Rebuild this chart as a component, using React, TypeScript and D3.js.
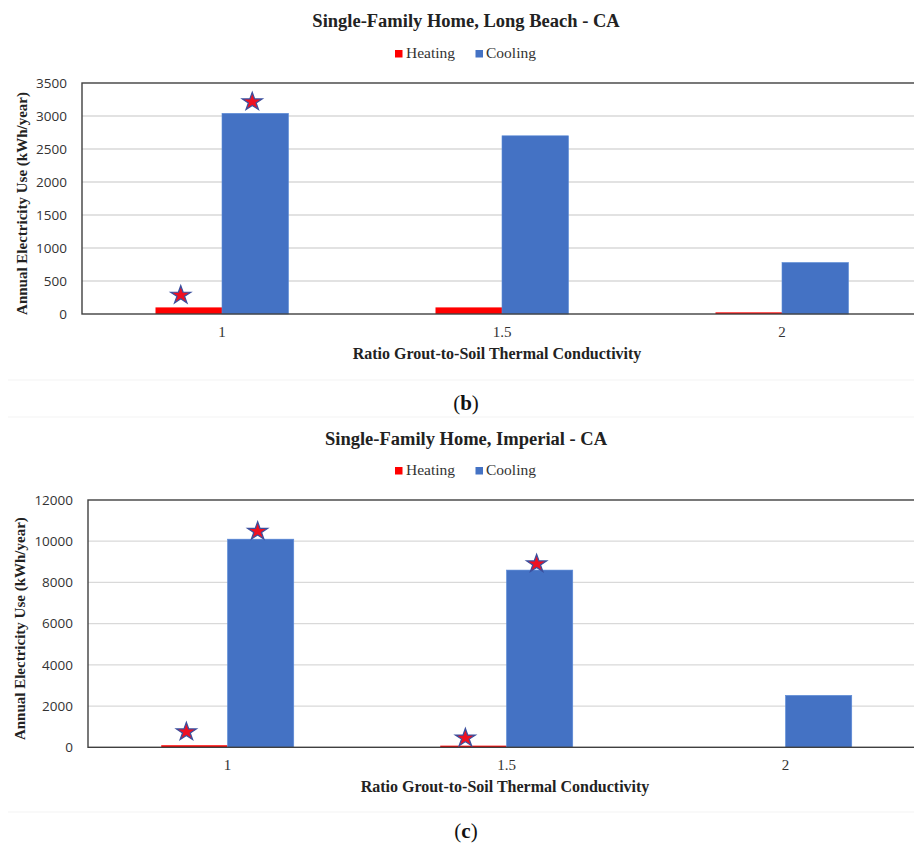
import React from "react";
import * as d3 from "d3";

// ---------- data ----------
const categories = ["1", "1.5", "2"];
const seriesNames = ["Heating", "Cooling"];

const longBeachHeating = [100, 100, 25];
const longBeachCooling = [3040, 2700, 780];
const longBeachTicks = [0, 500, 1000, 1500, 2000, 2500, 3000, 3500];
const longBeachStars = [
  { category: "1", series: "Heating", value: 300 },
  { category: "1", series: "Cooling", value: 3230 },
];

const imperialHeating = [100, 80, 10];
const imperialCooling = [10100, 8600, 2520];
const imperialTicks = [0, 2000, 4000, 6000, 8000, 10000, 12000];
const imperialStars = [
  { category: "1", series: "Heating", value: 800 },
  { category: "1", series: "Cooling", value: 10530 },
  { category: "1.5", series: "Heating", value: 500 },
  { category: "1.5", series: "Cooling", value: 8950 },
];

const COLORS: Record<string, string> = { Heating: "#ff0000", Cooling: "#4472c4" };
const SERIF = "'Times New Roman', 'Liberation Serif', serif";
const SANS = "'Open Sans', 'Noto Sans', sans-serif";

type Star = { category: string; series: string; value: number };

function Chart(props: {
  title: string;
  heating: number[];
  cooling: number[];
  ticks: number[];
  stars: Star[];
  left: number;
  top: number;
  bottom: number;
  step: number;
  titleY: number;
  legendY: number;
  yTitleX: number;
  xTitleX: number;
}) {
  const { title, heating, cooling, ticks, stars, left, top, bottom, step, titleY, legendY, yTitleX, xTitleX } = props;
  const right = left + step * categories.length;
  const x = d3
    .scaleBand<string>()
    .domain(categories)
    .range([left, right])
    .paddingInner(0.525)
    .paddingOuter(0.2625);
  const xs = d3.scaleBand<string>().domain(seriesNames).range([0, x.bandwidth()]).padding(0);
  const y = d3
    .scaleLinear()
    .domain([0, d3.max(ticks) as number])
    .range([bottom, top]);

  const rows = categories.map((c, i) => ({ c, Heating: heating[i], Cooling: cooling[i] }));
  const starPath = d3.symbol(d3.symbolStar, 125)() as string;
  const starDx: Record<string, number> = { Heating: -8, Cooling: -3 };
  const midX = 466;

  return (
    <g>
      <text x={midX} y={titleY} textAnchor="middle" fontFamily={SERIF} fontWeight="bold" fontSize={18.5} fill="#222">
        {title}
      </text>
      {/* legend */}
      <g>
        <rect x={395} y={legendY - 8} width={7.5} height={7.5} fill={COLORS.Heating} />
        <text x={406} y={legendY} fontFamily={SERIF} fontSize={15.5} fill="#333">Heating</text>
        <rect x={475.5} y={legendY - 8} width={7.5} height={7.5} fill={COLORS.Cooling} />
        <text x={486} y={legendY} fontFamily={SERIF} fontSize={15.5} fill="#333">Cooling</text>
      </g>
      {/* gridlines */}
      {ticks.slice(1, -1).map((t) => (
        <line key={t} x1={left} x2={right} y1={y(t)} y2={y(t)} stroke="#d9d9d9" strokeWidth={1.3} />
      ))}
      {/* y tick labels */}
      {ticks.map((t) => (
        <text key={"l" + t} x={left - 15} y={y(t)} dy="0.35em" textAnchor="end" fontFamily={SANS} fontSize={13.5} fill="#333">
          {t}
        </text>
      ))}
      {/* bars */}
      {rows.map((r) =>
        seriesNames.map((s) => {
          const v = (r as any)[s] as number;
          const bx = (x(r.c) as number) + (xs(s) as number);
          return (
            <rect
              key={r.c + s}
              x={bx}
              y={y(v)}
              width={xs.bandwidth()}
              height={bottom - y(v)}
              fill={COLORS[s]}
              stroke={s === "Cooling" ? "#5b8ad8" : "none"}
              strokeWidth={0.6}
            />
          );
        })
      )}
      {/* frame */}
      <rect x={left} y={top} width={right - left} height={bottom - top} fill="none" stroke="#404040" strokeWidth={1.4} />
      {/* x tick labels */}
      {categories.map((c) => (
        <text key={"x" + c} x={(x(c) as number) + x.bandwidth() / 2} y={bottom + 23} textAnchor="middle" fontFamily={SERIF} fontSize={15} fill="#333">
          {c}
        </text>
      ))}
      <text x={xTitleX} y={bottom + 45} textAnchor="middle" fontFamily={SERIF} fontWeight="bold" fontSize={16} fill="#222">
        Ratio Grout-to-Soil Thermal Conductivity
      </text>
      <text
        transform={`translate(${yTitleX},${(top + bottom) / 2 + 5}) rotate(-90)`}
        textAnchor="middle"
        fontFamily={SERIF}
        fontWeight="bold"
        fontSize={15}
        fill="#222"
      >
        Annual Electricity Use (kWh/year)
      </text>
      {/* stars */}
      {stars.map((st, i) => {
        const cx = (x(st.category) as number) + (xs(st.series) as number) + xs.bandwidth() / 2 + starDx[st.series];
        const cy = y(st.value);
        return (
          <path
            key={"s" + i}
            d={starPath}
            transform={`translate(${cx},${cy + 1}) scale(1,0.9)`}
            fill="#ee1122"
            stroke="#3a4f9e"
            strokeWidth={1.3}
          />
        );
      })}
    </g>
  );
}

export default function App() {
  return (
    <svg width={914} height={848} style={{ position: "absolute", left: 0, top: 0, background: "#fff" }}>
      <rect width={914} height={848} fill="#fff" />
      <Chart
        title="Single-Family Home, Long Beach - CA"
        heating={longBeachHeating}
        cooling={longBeachCooling}
        ticks={longBeachTicks}
        stars={longBeachStars}
        left={82}
        top={83}
        bottom={314}
        step={280}
        titleY={27}
        legendY={58}
        yTitleX={27}
        xTitleX={497}
      />
      <line x1={8} x2={914} y1={380} y2={380} stroke="#f3f3f3" strokeWidth={1} />
      <text x={466} y={410} textAnchor="middle" fontFamily={SERIF} fontSize={21} fill="#111">
        (<tspan fontWeight="bold">b</tspan>)
      </text>
      <line x1={8} x2={914} y1={417} y2={417} stroke="#f3f3f3" strokeWidth={1} />
      <Chart
        title="Single-Family Home, Imperial  - CA"
        heating={imperialHeating}
        cooling={imperialCooling}
        ticks={imperialTicks}
        stars={imperialStars}
        left={88}
        top={500}
        bottom={747.3}
        step={279}
        titleY={445}
        legendY={475}
        yTitleX={25}
        xTitleX={505}
      />
      <line x1={8} x2={914} y1={812} y2={812} stroke="#f3f3f3" strokeWidth={1} />
      <text x={466} y={838} textAnchor="middle" fontFamily={SERIF} fontSize={21} fill="#111">
        (<tspan fontWeight="bold">c</tspan>)
      </text>
    </svg>
  );
}
